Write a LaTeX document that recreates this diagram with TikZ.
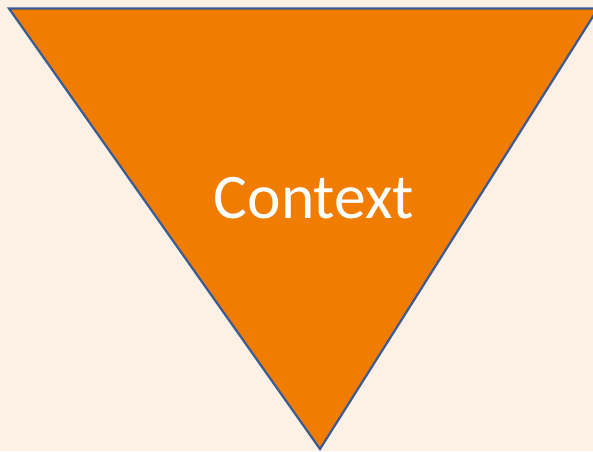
\documentclass[tikz,border=0pt]{standalone}
\usepackage{fontspec}
\setmainfont{Carlito}
\definecolor{bgcream}{HTML}{FDF1E6}
\definecolor{triorange}{HTML}{F07C00}
\definecolor{edgeblue}{HTML}{3B5B95}
\tikzset{tri/.style={fill=triorange,draw=edgeblue,line width=2.2pt,line join=miter},
  lbl/.style={text=white,font=\fontsize{63.5}{72}\selectfont,inner sep=0pt,anchor=base}}
\begin{document}
\begin{tikzpicture}[x=1pt,y=-1pt]
\fill[bgcream] (0,0) rectangle (593,451);
\useasboundingbox (0,0) rectangle (593,451);
\coordinate (tl) at (9,8.5);
\coordinate (tr) at (598,8.5);
\coordinate (ap) at (320,449);
\draw[tri] (tl) -- (tr) -- (ap) -- cycle;
\node[lbl] (ctx) at (314,218) {Context};
\end{tikzpicture}
\end{document}
